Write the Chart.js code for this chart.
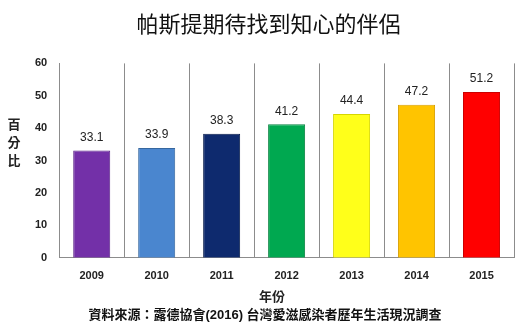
<!DOCTYPE html>
<html>
<head>
<meta charset="utf-8">
<script src="https://cdn.jsdelivr.net/npm/chart.js@4"></script>
<style>
  html, body { margin: 0; padding: 0; background: #fff; }
  #wrap { width: 521px; height: 329px; }
</style>
</head>
<body>
<div id="wrap"><canvas id="chart" width="521" height="329"></canvas></div>
<script>
const years = ["2009", "2010", "2011", "2012", "2013", "2014", "2015"];
const percentages = [33.1, 33.9, 38.3, 41.2, 44.4, 47.2, 51.2];
const barColors = ["#7330A8", "#4A86CF", "#0E2A6E", "#00A850", "#FFFF1A", "#FFC400", "#FF0000"];
const borderColors = ["#5A2287", "#36679F", "#091D4C", "#078240", "#D6D600", "#D9A000", "#CC0000"];
const yAxisTitle = ["百", "分", "比"];
const xAxisTitle = "年份";
const sourceNote = "資料來源：露德協會(2016) 台灣愛滋感染者歷年生活現況調查";

const FONT = "'Liberation Sans', 'Noto Sans CJK TC', sans-serif";

// 數值標籤、軸標題與資料來源
const extraText = {
  id: "extraText",
  afterDatasetsDraw(chart) {
    const ctx = chart.ctx;
    const meta = chart.getDatasetMeta(0);
    ctx.save();
    ctx.fillStyle = "#222";
    ctx.font = "12px " + FONT;
    ctx.textAlign = "center";
    ctx.textBaseline = "bottom";
    meta.data.forEach((bar, i) => {
      ctx.fillText(percentages[i].toFixed(1), bar.x, bar.y - 7);
    });
    ctx.textBaseline = "middle";
    ctx.font = "bold 13px 'Noto Sans CJK TC', sans-serif";
    yAxisTitle.forEach((ch, i) => {
      ctx.fillText(ch, 14, 124 + i * 18);
    });
    ctx.fillText(xAxisTitle, 272, 296);
    ctx.fillStyle = "#111";
    ctx.font = "bold 13px " + FONT;
    ctx.fillText(sourceNote, 265, 315);
    ctx.restore();
  }
};

new Chart(document.getElementById("chart"), {
  type: "bar",
  data: {
    labels: years,
    datasets: [{
      data: percentages,
      backgroundColor: barColors,
      borderColor: borderColors,
      borderWidth: 1,
      categoryPercentage: 1,
      barPercentage: 0.57
    }]
  },
  options: {
    responsive: false,
    animation: false,
    layout: { padding: { left: 23, right: 7, top: 0, bottom: 34 } },
    plugins: {
      legend: { display: false },
      tooltip: { enabled: false },
      title: {
        display: true,
        text: "帕斯提期待找到知心的伴侶",
        color: "#111",
        font: { family: "'Noto Sans CJK TC', sans-serif", size: 22, weight: "normal" },
        padding: { top: 10, bottom: 27 }
      }
    },
    scales: {
      x: {
        grid: { display: true, offset: true, color: "#8c8c8c", drawTicks: false },
        border: { display: true, color: "#8c8c8c" },
        ticks: { color: "#222", font: { family: FONT, size: 11, weight: "bold" }, padding: 12 }
      },
      y: {
        min: 0,
        max: 60,
        grid: { display: false, drawTicks: false },
        border: { display: true, color: "#8c8c8c" },
        ticks: { stepSize: 10, color: "#222", font: { family: FONT, size: 11, weight: "bold" }, padding: 12 }
      }
    }
  },
  plugins: [extraText]
});
</script>
</body>
</html>
